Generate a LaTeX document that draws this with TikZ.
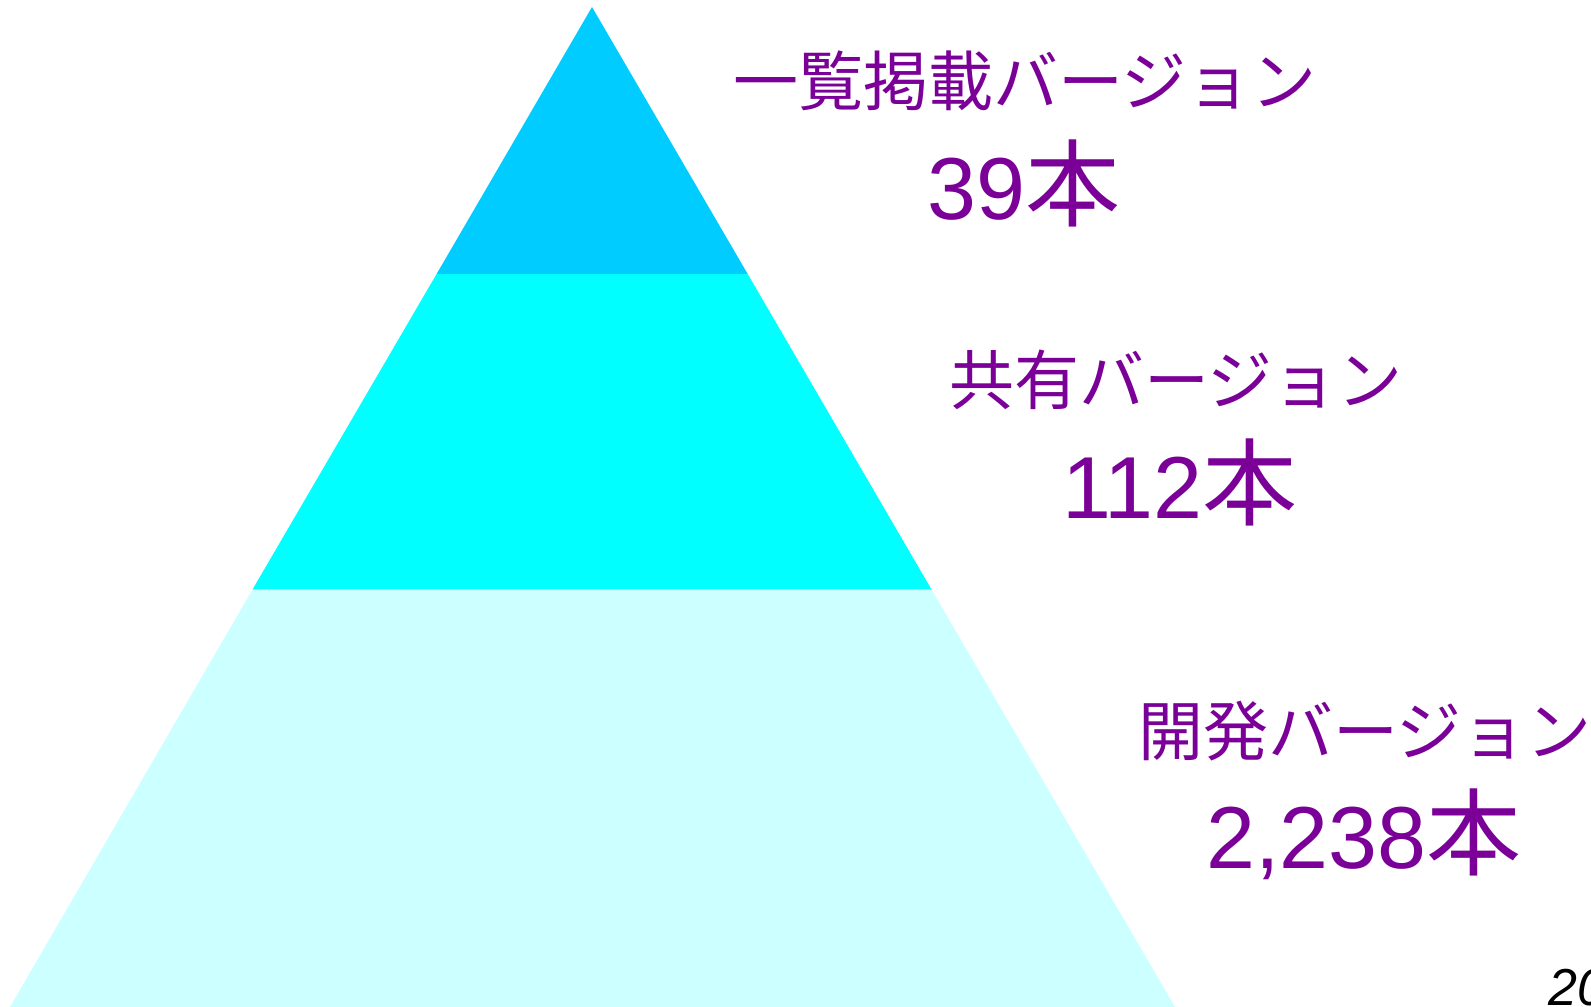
\documentclass[tikz,border=0pt]{standalone}
\usepackage{fontspec}
\setmainfont{Liberation Sans}
\newfontfamily\cjk{Noto Sans CJK JP}
\definecolor{topc}{RGB}{0,204,255}
\definecolor{midc}{RGB}{0,255,255}
\definecolor{botc}{RGB}{204,255,255}
\definecolor{lblc}{RGB}{122,0,152}
\newcommand{\hon}{{\cjk\fontsize{95}{100}\selectfont 本}}
\begin{document}
\begin{tikzpicture}[x=1pt,y=-1pt,
  title/.style={text=lblc, inner sep=0pt, font=\cjk\fontsize{65}{70}\selectfont},
  count/.style={text=lblc, inner sep=0pt, font=\fontsize{88}{94}\selectfont}]
\useasboundingbox (0,0) rectangle (1591,1007);
\coordinate (A) at (592,7);
\coordinate (L1) at (436.6,274);
\coordinate (R1) at (747.7,274);
\coordinate (L2) at (252.5,589.5);
\coordinate (R2) at (931.5,589.5);
\coordinate (BL) at (10,1007);
\coordinate (BR) at (1175,1007);
\fill[topc] (A) -- (R1) -- (L1) -- cycle;
\fill[midc] (L1) -- (R1) -- (R2) -- (L2) -- cycle;
\fill[botc] (L2) -- (R2) -- (BR) -- (BL) -- cycle;
\node[title] (t1) at (1025,81) {一覧掲載バージョン};
\node[count] (n1) at (1024,183) {39\hon};
\node[title] (t2) at (1176,380) {共有バージョン};
\node[count] (n2) at (1180,482) {112\hon};
\node[title] (t3) at (1365,731) {開発バージョン};
\node[count] (n3) at (1364,834) {2,238\hon};
\node[anchor=base west, inner sep=0pt, font=\itshape\fontsize{52}{56}\selectfont] (yr) at (1548,1005) {20};
\end{tikzpicture}
\end{document}
